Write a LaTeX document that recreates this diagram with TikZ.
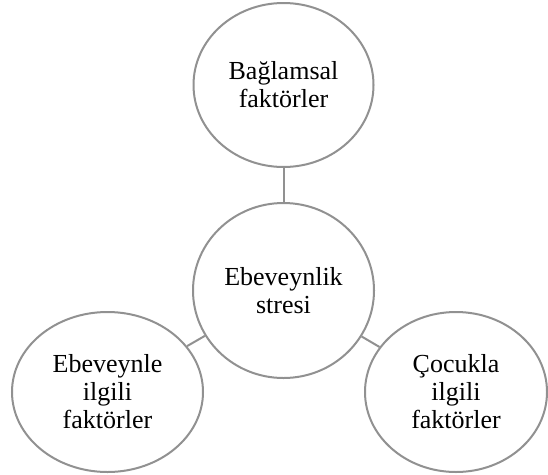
\documentclass[tikz,border=0pt]{standalone}
\usepackage{fontspec}
\setmainfont{Liberation Serif}
\usetikzlibrary{shapes.geometric}
\definecolor{edgegray}{RGB}{145,145,145}
\tikzset{
  bubble/.style={ellipse, draw=edgegray, line width=2pt, fill=white, inner sep=0pt,
    align=center, font=\fontsize{26}{28}\selectfont, text=black},
  link/.style={draw=edgegray, line width=2pt}
}
\begin{document}
\begin{tikzpicture}[x=1pt,y=-1pt]
\useasboundingbox (0,0) rectangle (548,474);
\node[bubble, minimum width=180pt, minimum height=164pt] (top) at (283.5,85) {Bağlamsal\\faktörler};
\node[bubble, minimum width=181pt, minimum height=175pt] (mid) at (283.5,290.5) {Ebeveynlik\\stresi};
\node[bubble, minimum width=191pt, minimum height=160pt] (left) at (107.5,392) {Ebeveynle\\ilgili\\faktörler};
\node[bubble, minimum width=182pt, minimum height=160pt] (right) at (456,392) {Çocukla\\ilgili\\faktörler};
\draw[link] (top) -- (mid);
\draw[link] (mid) -- (left);
\draw[link] (mid) -- (right);
\end{tikzpicture}
\end{document}
